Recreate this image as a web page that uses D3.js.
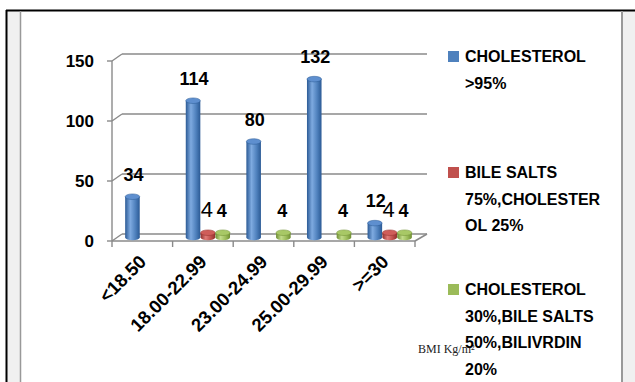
<!DOCTYPE html>
<html>
<head>
<meta charset="utf-8">
<script src="https://cdn.jsdelivr.net/npm/d3@7"></script>
<style>
  body { margin: 0; background: #fff; }
  svg { display: block; }
</style>
</head>
<body>
<div id="chart"></div>
<script>
// data
const categories = ["<18.50", "18.00-22.99", "23.00-24.99", "25.00-29.99", ">=30"];
const seriesKeys = ["chol", "bile", "mixed"];
const cholesterol = [34, 114, 80, 132, 12];
const bileSalts = [null, 4, null, null, 4];
const mixed = [null, 4, 4, 4, 4];
const legendLines = [
  ["CHOLESTEROL", ">95%"],
  ["BILE SALTS", "75%,CHOLESTER", "OL 25%"],
  ["CHOLESTEROL", "30%,BILE SALTS", "50%,BILIVRDIN", "20%"]
];
const yTicks = [0, 50, 100, 150];
const axisTitle = "BMI Kg/m²";

const width = 635, height = 382;
const font = "'Liberation Sans', Arial, sans-serif";
const colors = {
  chol: { base: "#4f81bd", dark: "#2b5a95", light: "#7eaae0", top: "#5e8fcf" },
  bile: { base: "#c0504d", dark: "#92302d", light: "#e07b78", top: "#cf5d5a" },
  mixed: { base: "#9bbb59", dark: "#6f8e33", light: "#c2dc8a", top: "#a8c866" }
};
const values = { chol: cholesterol, bile: bileSalts, mixed: mixed };

const svg = d3.select("#chart").append("svg")
  .attr("width", width).attr("height", height);

// frame
svg.append("rect").attr("x", 7).attr("y", 11).attr("width", 14).attr("height", height)
  .attr("fill", "#f0f0f0");
svg.append("rect").attr("x", 622).attr("y", 11).attr("width", 13).attr("height", height)
  .attr("fill", "#f0f0f0");
svg.append("line").attr("x1", 6).attr("x2", width).attr("y1", 10.5).attr("y2", 10.5)
  .attr("stroke", "#000").attr("stroke-width", 2);
svg.append("line").attr("x1", 6.5).attr("x2", 6.5).attr("y1", 10).attr("y2", height)
  .attr("stroke", "#000").attr("stroke-width", 2);
svg.append("line").attr("x1", 20.5).attr("x2", 20.5).attr("y1", 11).attr("y2", height)
  .attr("stroke", "#999").attr("stroke-width", 1.5);
svg.append("line").attr("x1", 622).attr("x2", 622).attr("y1", 11).attr("y2", height)
  .attr("stroke", "#999").attr("stroke-width", 2);

// scales
const x0 = 112, x1 = 415;
const depthX = 10, depthY = -7;
const x = d3.scaleBand().domain(categories).range([x0, x1]).paddingInner(0).paddingOuter(0);
const xs = d3.scaleBand().domain(seriesKeys).range([0, x.bandwidth()]).paddingInner(0.02).paddingOuter(0.55);
const y = d3.scaleLinear().domain([0, 150]).range([241, 61]);

const grid = svg.append("g");
const gridColor = "#8a8a8a";

// back wall gridlines + side wall diagonals
yTicks.forEach(t => {
  const yy = y(t);
  grid.append("line")
    .attr("x1", x0 + depthX).attr("x2", x1 + depthX + 2)
    .attr("y1", yy + depthY).attr("y2", yy + depthY)
    .attr("stroke", gridColor).attr("stroke-width", 1.6);
  grid.append("line")
    .attr("x1", x0).attr("x2", x0 + depthX)
    .attr("y1", yy).attr("y2", yy + depthY)
    .attr("stroke", gridColor).attr("stroke-width", 1.4);
  // left tick
  grid.append("line")
    .attr("x1", x0 - 5).attr("x2", x0)
    .attr("y1", yy).attr("y2", yy)
    .attr("stroke", gridColor).attr("stroke-width", 1.4);
});

// floor front edge + right diagonal
grid.append("line")
  .attr("x1", x0).attr("x2", x1).attr("y1", y(0)).attr("y2", y(0))
  .attr("stroke", gridColor).attr("stroke-width", 1.6);
grid.append("line")
  .attr("x1", x1).attr("x2", x1 + depthX + 2).attr("y1", y(0)).attr("y2", y(0) + depthY)
  .attr("stroke", gridColor).attr("stroke-width", 1.6);
// vertical axis
grid.append("line")
  .attr("x1", x0).attr("x2", x0).attr("y1", y(150)).attr("y2", y(0))
  .attr("stroke", gridColor).attr("stroke-width", 1.4);
// category ticks
d3.range(categories.length + 1).forEach(i => {
  const xx = x0 + i * x.bandwidth();
  grid.append("line")
    .attr("x1", xx).attr("x2", xx).attr("y1", y(0)).attr("y2", y(0) + 6)
    .attr("stroke", gridColor).attr("stroke-width", 1.4);
});

// y labels
svg.append("g").selectAll("text").data(yTicks).join("text")
  .attr("x", 94).attr("y", d => y(d) + 6)
  .attr("text-anchor", "end")
  .attr("font-family", font)
  .attr("font-weight", 700).attr("font-size", 17)
  .attr("fill", "#000")
  .text(d => d);

// x labels
svg.append("g").selectAll("text").data(categories).join("text")
  .attr("transform", d => `translate(${x(d) + x.bandwidth() / 2 + 5},${y(0) + 22}) rotate(-45)`)
  .attr("text-anchor", "end")
  .attr("font-family", font)
  .attr("font-weight", 700).attr("font-size", 18.5)
  .attr("fill", "#000")
  .text(d => d);

// gradients
const defs = svg.append("defs");
seriesKeys.forEach(k => {
  const c = colors[k];
  const g = defs.append("linearGradient").attr("id", "grad-" + k)
    .attr("x1", "0%").attr("x2", "100%").attr("y1", "0%").attr("y2", "0%");
  g.append("stop").attr("offset", "0%").attr("stop-color", c.dark);
  g.append("stop").attr("offset", "35%").attr("stop-color", c.light);
  g.append("stop").attr("offset", "70%").attr("stop-color", c.base);
  g.append("stop").attr("offset", "100%").attr("stop-color", c.dark);
});

// bars (cylinders)
const bars = [];
seriesKeys.forEach(k => {
  values[k].forEach((v, i) => {
    if (v == null) return;
    bars.push({ key: k, cat: categories[i], value: v });
  });
});

const barG = svg.append("g");
const midDx = depthX / 2, midDy = depthY / 2;
const ry = 2.8;
bars.forEach(b => {
  const bx = x(b.cat) + xs(b.key) + midDx;
  const bw = xs.bandwidth();
  const cx = bx + bw / 2;
  const yb = y(0) + midDy;
  const yt = y(b.value) + midDy;
  const c = colors[b.key];
  barG.append("ellipse").attr("cx", cx).attr("cy", yb).attr("rx", bw / 2).attr("ry", ry)
    .attr("fill", "url(#grad-" + b.key + ")");
  barG.append("rect").attr("x", bx).attr("y", yt).attr("width", bw).attr("height", yb - yt)
    .attr("fill", "url(#grad-" + b.key + ")");
  barG.append("ellipse").attr("cx", cx).attr("cy", yt).attr("rx", bw / 2).attr("ry", ry)
    .attr("fill", c.top).attr("stroke", c.dark).attr("stroke-width", 0.5);
  b.cx = cx; b.yt = yt;
});

// value labels
svg.append("g").selectAll("text").data(bars).join("text")
  .attr("x", d => d.cx + (d.key === "chol" ? 1 : -1))
  .attr("y", d => d.yt - 16)
  .attr("text-anchor", "middle")
  .attr("font-family", font)
  .attr("font-weight", d => d.key === "bile" ? 400 : 700)
  .attr("font-size", d => d.key === "bile" ? 22 : 18)
  .attr("fill", "#000")
  .text(d => d.value);

// axis title
svg.append("text").attr("x", 418).attr("y", 353)
  .attr("font-family", "'Liberation Serif', serif").attr("font-size", 12)
  .attr("fill", "#222").text(axisTitle);

// legend
const legend = svg.append("g");
const legendTop = [51, 167, 284];
legendLines.forEach((lines, i) => {
  const k = seriesKeys[i];
  legend.append("rect").attr("x", 448).attr("y", legendTop[i]).attr("width", 11).attr("height", 11)
    .attr("fill", colors[k].base);
  const t = legend.append("text")
    .attr("font-family", font)
    .attr("font-weight", 700).attr("font-size", 16).attr("fill", "#000");
  lines.forEach((ln, j) => {
    t.append("tspan").attr("x", 465).attr("y", legendTop[i] + 11 + j * 26.5).text(ln);
  });
});
</script>
</body>
</html>
